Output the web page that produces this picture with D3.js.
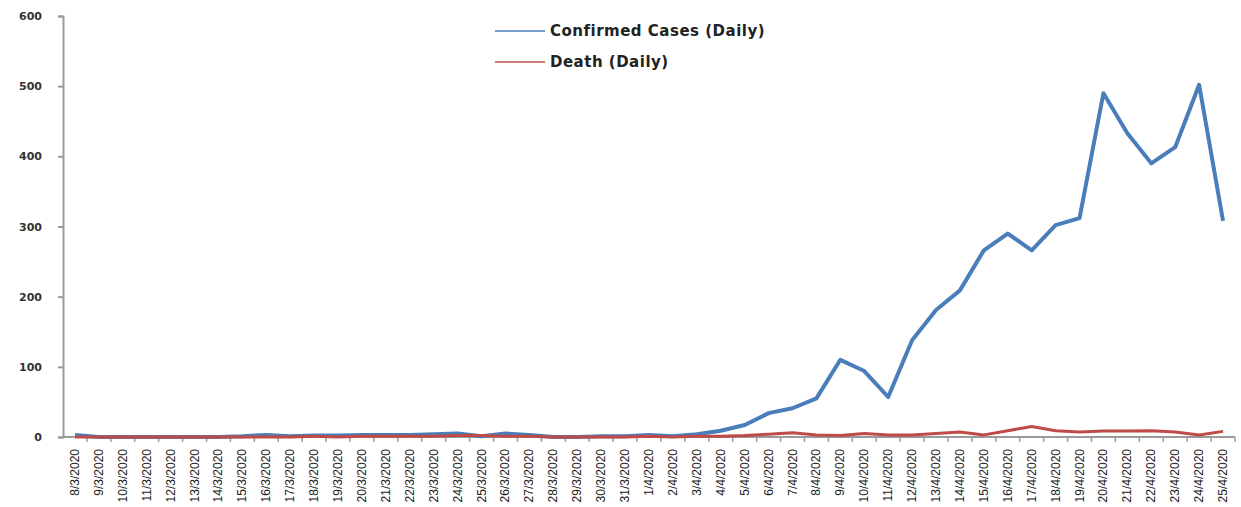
<!DOCTYPE html>
<html>
<head>
<meta charset="utf-8">
<script src="https://cdn.jsdelivr.net/npm/d3@7"></script>
<style>
  body { margin: 0; background: #fff; }
  svg { display: block; }
  .tick text { fill: #222; }
</style>
</head>
<body>
<svg id="chart" width="1241" height="507"></svg>
<script>
// Dates (8 March .. 25 April 2020)
const dates = [
  '8/3/2020', '9/3/2020', '10/3/2020', '11/3/2020', '12/3/2020', '13/3/2020', '14/3/2020',
  '15/3/2020', '16/3/2020', '17/3/2020', '18/3/2020', '19/3/2020', '20/3/2020', '21/3/2020',
  '22/3/2020', '23/3/2020', '24/3/2020', '25/3/2020', '26/3/2020', '27/3/2020', '28/3/2020',
  '29/3/2020', '30/3/2020', '31/3/2020', '1/4/2020', '2/4/2020', '3/4/2020', '4/4/2020',
  '5/4/2020', '6/4/2020', '7/4/2020', '8/4/2020', '9/4/2020', '10/4/2020', '11/4/2020',
  '12/4/2020', '13/4/2020', '14/4/2020', '15/4/2020', '16/4/2020', '17/4/2020', '18/4/2020',
  '19/4/2020', '20/4/2020', '21/4/2020', '22/4/2020', '23/4/2020', '24/4/2020', '25/4/2020',
];

const confirmed = [
  3, 0, 0, 0, 0, 0, 0,
  1, 3, 1, 2, 2, 3, 3,
  3, 4, 5, 1, 5, 3, 0,
  0, 1, 1, 3, 1, 4, 9,
  17, 34, 41, 55, 110, 94, 57,
  138, 181, 209, 266, 290, 266, 302,
  312, 490, 433, 390, 413, 502, 308,
];

const deaths = [
  0, 0, 0, 0, 0, 0, 0,
  0, 0, 0, 1, 0, 1, 1,
  1, 1, 2, 2, 1, 1, 0,
  0, 0, 0, 1, 0, 1, 1,
  2, 4, 6, 3, 2, 5, 3,
  3, 5, 7, 3, 9, 15, 9,
  7, 8.5, 8.5, 9, 7, 3, 8,
];

const yTicks = [0, 100, 200, 300, 400, 500, 600];

const series = [
  {name: 'Confirmed Cases (Daily)', values: confirmed, color: '#4a7ebb', width: 4},
  {name: 'Death (Daily)', values: deaths, color: '#be4b48', width: 3},
];

const svg = d3.select('#chart');
const margin = {top: 16, right: 6, bottom: 70, left: 63};
const width = 1241 - margin.left - margin.right;
const height = 507 - margin.top - margin.bottom;

const g = svg.append('g')
  .attr('transform', `translate(${margin.left},${margin.top})`);

const x = d3.scaleBand()
  .domain(dates)
  .range([0, width]);

const y = d3.scaleLinear()
  .domain([0, 600])
  .range([height, 0]);

// Y axis
const yAxis = g.append('g')
  .call(d3.axisLeft(y).tickValues(yTicks).tickSize(5).tickPadding(16));
yAxis.selectAll('text')
  .style('font-family', 'Verdana, "DejaVu Sans", sans-serif')
  .style('font-size', '11px')
  .style('font-weight', 'bold')
  .style('fill', '#333');
yAxis.selectAll('line, path').attr('stroke', '#9a9a9a').attr('stroke-width', 2);

// X axis: ticks on category boundaries
const xAxisG = g.append('g')
  .attr('transform', `translate(0,${height})`);
xAxisG.append('line')
  .attr('x1', 0).attr('x2', width)
  .attr('stroke', '#9a9a9a').attr('stroke-width', 2);
xAxisG.selectAll('.xtick')
  .data(dates)
  .join('line')
  .attr('class', 'xtick')
  .attr('x1', (d) => x(d) + x.bandwidth())
  .attr('x2', (d) => x(d) + x.bandwidth())
  .attr('y1', 0).attr('y2', 5)
  .attr('stroke', '#9a9a9a').attr('stroke-width', 1.5);
xAxisG.selectAll('.xlabel')
  .data(dates)
  .join('text')
  .attr('class', 'xlabel')
  .attr('transform', (d) => `translate(${x(d) + x.bandwidth() / 2 + 4},12) rotate(-90)`)
  .attr('text-anchor', 'end')
  .style('font-family', '"Liberation Sans Narrow", "Liberation Sans", Arial, sans-serif')
  .style('font-size', '12px')
  .style('fill', '#222')
  .text((d) => d);

// Lines
const line = d3.line()
  .x((d, i) => x(dates[i]) + x.bandwidth() / 2)
  .y((d) => y(d));

g.selectAll('.series')
  .data(series)
  .join('path')
  .attr('class', 'series')
  .attr('fill', 'none')
  .attr('stroke', (d) => d.color)
  .attr('stroke-width', (d) => d.width)
  .attr('stroke-linejoin', 'round')
  .attr('d', (d) => line(d.values));

// Legend
const legend = svg.append('g')
  .attr('transform', 'translate(495,31)');
const legendItem = legend.selectAll('.item')
  .data(series)
  .join('g')
  .attr('class', 'item')
  .attr('transform', (d, i) => `translate(0,${i * 31})`);
legendItem.append('line')
  .attr('x1', 0).attr('x2', 50)
  .attr('stroke', (d) => d.color)
  .attr('stroke-width', 1.5);
legendItem.append('text')
  .attr('x', 55)
  .attr('dy', '0.35em')
  .style('font-family', '"DejaVu Sans", sans-serif')
  .style('font-size', '15px')
  .style('font-weight', 'bold')
  .style('letter-spacing', '0.5px')
  .style('fill', '#222')
  .text((d) => d.name);
</script>
</body>
</html>
